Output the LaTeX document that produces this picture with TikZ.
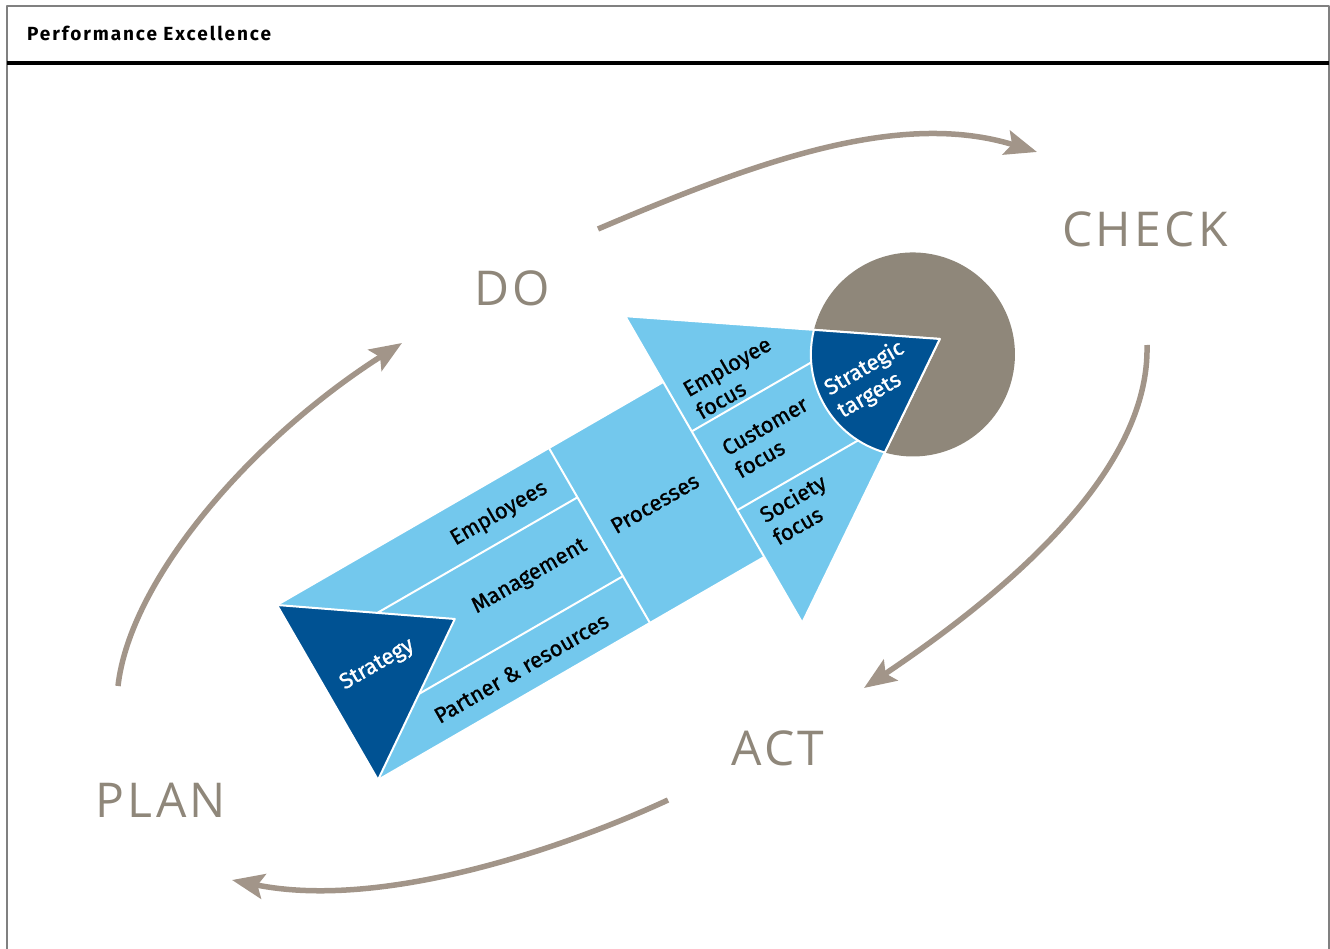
\documentclass[tikz,border=0pt]{standalone}
\usepackage{fontspec}
\setmainfont{Fira Sans}
\newfontfamily\fieldfont{Fira Sans}[FakeBold=1.0]
\newfontfamily\pdcafont{Open Sans}[LetterSpace=7]
\usetikzlibrary{arrows.meta}
\usetikzlibrary{positioning}

\definecolor{skyblue}{RGB}{115,200,237}
\definecolor{deepblue}{RGB}{0,82,147}
\definecolor{taupe}{RGB}{143,135,122}
\definecolor{arrowtaupe}{RGB}{162,149,137}

\begin{document}
\begin{tikzpicture}[x=1pt,y=1pt,line join=round,
    divider/.style={draw=white,line width=2pt},
    fieldlabel/.style={font=\fieldfont\fontsize{22}{26}\selectfont,align=left,rotate=30,inner sep=0pt},
    phase/.style={font=\pdcafont\fontsize{48}{50}\selectfont,text=taupe,inner sep=0pt},
    cyclearrow/.style={draw=arrowtaupe,line width=5.5pt,-{Stealth[length=32pt,width=25pt,inset=6pt]}}]
  \useasboundingbox (0,0) rectangle (1330,-949);

  % frame and heading
  \draw[gray,line width=1.5pt] (7,-949) -- (7,-6) -- (1329,-6) -- (1329,-949);
  \draw[black,line width=4.5pt] (7,-63) -- (1329,-63);
  \node[anchor=west,inner sep=0pt,font=\bfseries\fontsize{19}{20}\selectfont\addfontfeature{LetterSpace=10}] (heading) at (27,-33) {Performance Excellence};

  % the arrow, drawn along its own axis
  \begin{scope}[shift={(277,-605)},rotate=30]
    \fill[taupe] (676,-101) circle (102);
    \filldraw[fill=skyblue,divider] (0,0) -- (446,0) -- (446,76) -- (707,-101) -- (446,-278) -- (446,-202) -- (0,-202) -- cycle;
    \filldraw[fill=deepblue,divider] (0,0) -- (147,-101) -- (0,-202) -- cycle;
    \draw[divider] (83,-57) -- (314,-57);
    \draw[divider] (79,-148) -- (314,-148);
    \draw[divider] (314,0) -- (314,-202);
    \draw[divider] (446,0) -- (446,-202);
    \draw[divider] (446,-57) -- (610,-57);
    \draw[divider] (446,-148) -- (610,-148);
    \filldraw[fill=deepblue,divider] (602.6,-30.2) -- (707,-101) -- (602.6,-171.8) arc[start angle=224,end angle=136,radius=102] -- cycle;

    \node[fieldlabel,text=white] (strategy) at (57,-102) {Strategy};
    \node[fieldlabel] (employees) at (238,-32) {Employees};
    \node[fieldlabel] (management) at (233,-102) {Management};
    \node[fieldlabel] (partner) at (180,-177) {Partner \& resources};
    \node[fieldlabel] (processes) at (378,-101) {Processes};
    \node[fieldlabel] (empfocus) at (509,-31) {Employee\\focus};
    \node[fieldlabel] (custfocus) at (512,-102) {Customer\\focus};
    \node[fieldlabel] (socfocus) at (500,-178) {Society\\focus};
    \node[fieldlabel,text=white] (targets) at (627,-102) {Strategic\\targets};
  \end{scope}

  % plan - do - check - act
  \node[phase] (do) at (512,-288) {DO};
  \node[phase] (check) at (1145,-229) {CHECK};
  \node[phase] (act) at (778,-748) {ACT};
  \node[phase] (plan) at (161,-800) {PLAN};

  \draw[cyclearrow] (598,-229) .. controls (760,-160) and (900,-110) .. (1037,-152);
  \draw[cyclearrow] (1147,-345) .. controls (1150,-470) and (1010,-590) .. (864,-688);
  \draw[cyclearrow] (668,-800) .. controls (560,-850) and (380,-910) .. (232,-880);
  \draw[cyclearrow] (118,-686) .. controls (130,-580) and (250,-440) .. (402,-343);
\end{tikzpicture}
\end{document}
